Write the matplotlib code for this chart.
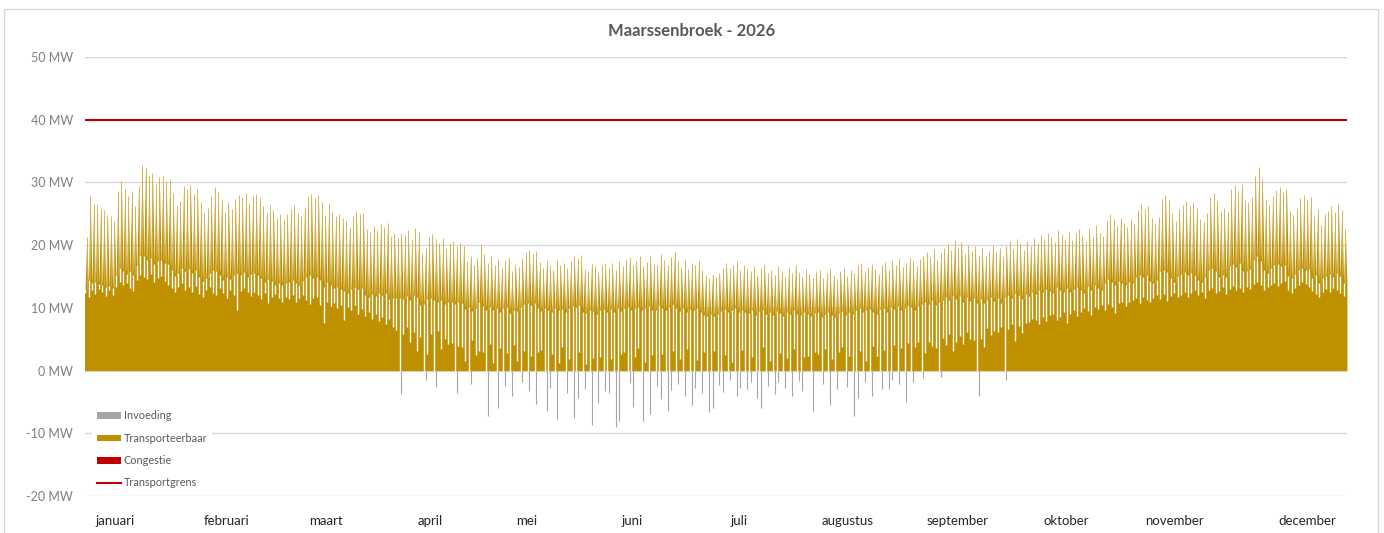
import numpy as np
import matplotlib.pyplot as plt
from matplotlib.patches import Patch, Rectangle
from matplotlib.lines import Line2D

plt.rcParams['font.family'] = ['Lato', 'DejaVu Sans']

# Daily peak load (MW), one row per month
peak = [
    21.3, 27.8, 26.5, 26.6, 25.8, 25.6, 24.8, 24.6, 23.9, 28.6, 30.3, 29.0, 27.8, 28.6, 26.2, 29.5, 32.8, 32.4, 31.2, 31.5, 29.8, 30.9, 31.1, 30.2, 30.6, 28.3, 26.4, 27.1, 29.4, 28.9, 29.6,
    28.1, 29.0, 26.8, 25.2, 26.0, 27.9, 29.3, 28.6, 27.4, 25.3, 26.9, 25.8, 27.3, 28.0, 27.6, 28.3, 26.7, 27.8, 28.2, 27.5, 26.2, 25.1, 26.4, 25.6, 24.4, 24.9, 24.1, 25.0,
    25.8, 26.4, 25.2, 24.6, 26.1, 27.8, 28.2, 27.5, 28.0, 26.9, 24.8, 26.7, 25.3, 24.6, 25.0, 24.3, 23.8, 22.9, 24.7, 25.4, 24.9, 25.2, 22.6, 22.1, 23.0, 22.4, 23.4, 22.9, 23.6, 21.4, 21.9,
    21.2, 22.0, 21.6, 22.4, 21.0, 22.8, 22.1, 18.8, 19.5, 21.3, 21.8, 21.0, 20.4, 21.1, 19.6, 20.3, 20.6, 19.8, 20.4, 19.9, 17.5, 18.2, 16.8, 17.9, 20.2, 18.6, 17.2, 18.3, 16.9, 17.8,
    16.4, 17.6, 18.1, 15.9, 17.0, 16.5, 17.9, 18.9, 19.2, 18.6, 19.0, 17.3, 16.4, 17.5, 16.8, 16.1, 17.6, 16.9, 17.2, 16.3, 17.4, 18.3, 18.0, 18.5, 16.2, 15.8, 17.0, 16.6, 15.7, 16.9, 17.1,
    16.3, 17.2, 16.0, 17.4, 16.6, 17.8, 18.1, 16.9, 17.5, 18.2, 16.7, 17.3, 18.4, 17.0, 16.8, 18.6, 17.7, 16.9, 18.1, 19.0, 17.4, 16.5, 17.6, 16.2, 17.1, 16.8, 17.5, 16.1, 15.2, 14.8,
    15.4, 14.9, 15.6, 16.4, 17.1, 16.3, 16.9, 17.4, 16.0, 16.8, 16.2, 15.9, 16.7, 15.3, 16.4, 17.0, 15.6, 16.1, 15.2, 16.6, 15.8, 14.9, 16.3, 15.5, 16.9, 15.7, 15.0, 16.2, 15.4, 14.8, 15.9,
    16.1, 14.7, 15.5, 16.3, 15.2, 14.6, 15.8, 16.4, 15.1, 16.0, 15.6, 16.8, 17.2, 15.9, 16.5, 17.0, 16.2, 15.4, 16.9, 17.3, 16.1, 17.6, 16.8, 17.9, 16.5, 17.2, 18.0, 17.4, 16.6, 17.8, 18.3,
    18.9, 18.1, 19.4, 17.6, 18.8, 19.6, 20.2, 19.3, 20.8, 19.7, 20.5, 18.6, 20.1, 19.0, 19.8, 18.4, 19.5, 18.2, 19.1, 20.0, 18.9, 19.6, 18.3, 19.9, 20.6, 19.4, 21.0, 20.3, 19.2, 20.7,
    19.8, 21.2, 20.4, 21.6, 20.9, 22.0, 21.3, 20.5, 22.4, 21.7, 21.0, 22.2, 20.8, 21.9, 22.6, 21.4, 20.6, 22.8, 21.5, 23.2, 22.0, 21.4, 23.8, 25.0, 24.2, 23.1, 24.4, 23.6, 22.9, 24.1, 23.4,
    25.6, 26.5, 25.8, 26.2, 24.3, 23.6, 24.5, 27.4, 28.0, 27.2, 25.1, 23.8, 25.7, 26.4, 27.0, 26.2, 26.8, 25.9, 24.1, 23.7, 25.2, 27.6, 28.3, 27.1, 25.4, 26.0, 25.3, 28.9, 29.6, 28.7,
    29.8, 27.2, 26.9, 27.6, 31.1, 32.4, 30.6, 27.3, 26.4, 27.9, 28.8, 29.2, 28.5, 29.0, 25.4, 24.8, 26.0, 27.5, 28.0, 27.2, 27.7, 24.6, 25.8, 23.2, 24.9, 25.5, 26.2, 25.3, 26.5, 25.6, 22.5,
]

# Typical load level of each day (top of the solid band, MW)
body = [
    13.0, 14.5, 14.0, 14.2, 13.8, 13.6, 13.4, 13.5, 13.2, 15.2, 16.3, 15.8, 15.4, 15.9, 15.2, 16.8, 18.4, 18.2, 17.6, 17.9, 17.0, 17.5, 17.7, 17.1, 17.0, 16.0, 15.1, 15.6, 16.4, 15.9, 16.2,
    15.6, 16.0, 15.0, 14.3, 14.8, 15.5, 16.1, 15.8, 15.3, 14.4, 15.0, 14.6, 15.2, 15.5, 15.3, 15.7, 14.9, 15.4, 15.6, 15.2, 14.7, 14.1, 14.6, 14.3, 13.7, 14.0, 13.6, 14.0,
    14.2, 14.5, 13.9, 13.6, 14.3, 15.0, 15.2, 14.8, 15.0, 14.4, 13.4, 14.2, 13.6, 13.2, 13.4, 13.0, 12.7, 12.3, 13.0, 13.3, 13.0, 13.1, 12.0, 11.8, 12.2, 11.9, 12.3, 12.1, 12.4, 11.4, 11.6,
    11.5, 11.6, 11.4, 11.9, 11.2, 12.0, 11.7, 10.4, 10.6, 11.4, 11.6, 11.2, 10.9, 11.3, 10.6, 10.9, 11.0, 10.6, 10.9, 10.7, 9.8, 10.1, 9.5, 10.0, 10.9, 10.3, 9.7, 10.2, 9.6, 10.0,
    9.4, 9.9, 10.2, 9.2, 9.7, 9.5, 10.1, 10.6, 10.8, 10.5, 10.7, 9.9, 9.5, 10.0, 9.7, 9.4, 10.0, 9.7, 9.8, 9.4, 9.9, 10.3, 10.2, 10.4, 9.4, 9.2, 9.7, 9.5, 9.1, 9.7, 9.8,
    9.4, 9.8, 9.3, 9.9, 9.5, 10.0, 10.2, 9.7, 9.9, 10.2, 9.6, 9.9, 10.3, 9.7, 9.6, 10.4, 10.0, 9.7, 10.2, 10.6, 9.9, 9.5, 10.0, 9.3, 9.8, 9.6, 9.9, 9.3, 8.9, 8.7,
    9.0, 8.7, 9.1, 9.5, 9.8, 9.4, 9.7, 9.9, 9.3, 9.6, 9.4, 9.2, 9.6, 8.9, 9.5, 9.7, 9.1, 9.3, 8.9, 9.5, 9.2, 8.7, 9.4, 9.0, 9.7, 9.1, 8.8, 9.4, 9.0, 8.7, 9.2,
    9.3, 8.6, 9.0, 9.4, 8.9, 8.6, 9.2, 9.5, 8.9, 9.3, 9.1, 9.7, 9.9, 9.3, 9.6, 9.8, 9.4, 9.0, 9.8, 10.0, 9.4, 10.2, 9.8, 10.3, 9.6, 10.0, 10.4, 10.1, 9.7, 10.3, 10.6,
    10.9, 10.6, 11.2, 10.4, 10.9, 11.3, 11.7, 11.2, 12.0, 11.4, 11.9, 10.9, 11.7, 11.1, 11.5, 10.8, 11.4, 10.8, 11.2, 11.7, 11.1, 11.5, 10.8, 11.7, 12.1, 11.5, 12.3, 12.0, 11.4, 12.2,
    11.9, 12.6, 12.2, 12.8, 12.5, 13.0, 12.7, 12.3, 13.3, 12.9, 12.6, 13.2, 12.5, 13.0, 13.4, 12.8, 12.4, 13.5, 12.9, 13.7, 13.1, 12.9, 14.0, 14.6, 14.2, 13.7, 14.3, 14.0, 13.6, 14.2, 13.9,
    14.9, 15.3, 15.0, 15.2, 14.3, 14.0, 14.5, 15.8, 16.1, 15.7, 14.8, 14.2, 15.1, 15.4, 15.7, 15.3, 15.6, 15.2, 14.4, 14.2, 14.9, 16.0, 16.3, 15.8, 15.0, 15.3, 15.0, 16.6, 17.0, 16.5,
    17.1, 15.9, 15.8, 16.2, 17.6, 18.3, 17.4, 16.0, 15.6, 16.4, 16.8, 17.0, 16.6, 16.9, 15.1, 14.8, 15.4, 16.1, 16.4, 16.0, 16.2, 14.7, 15.2, 14.0, 14.8, 15.1, 15.4, 15.0, 15.6, 15.1, 13.9,
]

# Daily lowest transportable load (MW)
low = [
    12.4, 11.8, 12.9, 12.2, 13.0, 12.6, 11.9, 12.8, 12.1, 13.4, 14.2, 13.6, 14.0, 13.1, 12.7, 14.5, 15.3, 15.0, 14.6, 15.4, 14.1, 14.8, 15.1, 14.3, 13.7, 13.2, 12.5, 13.4, 13.9, 12.8, 13.3,
    12.6, 13.5, 12.2, 11.8, 12.9, 13.3, 12.4, 12.0, 13.1, 12.3, 11.6, 12.8, 12.1, 9.6, 12.7, 13.2, 12.5, 11.9, 12.6, 12.0, 11.4, 12.3, 10.8, 11.7, 12.2, 11.5, 11.0, 11.8,
    11.4, 12.1, 10.9, 11.6, 12.0, 11.2, 10.6, 11.5, 11.8, 10.4, 7.6, 11.0, 10.3, 10.8, 9.9, 10.5, 8.1, 10.2, 9.6, 10.4, 9.1, 9.8, 8.7, 9.4, 8.2, 9.0, 7.9, 8.6, 7.4, 8.3, 7.0,
    6.4, 0.0, 5.8, 6.9, 4.6, 6.1, 3.2, 5.4, 0.0, 2.7, 5.9, 0.0, 6.3, 3.5, 5.0, 4.2, 4.4, 0.0, 3.9, 3.7, 1.6, 0.0, 4.8, 2.5, 3.1, 3.0, 0.0, 4.2, 1.2, 0.0,
    3.6, 0.0, 2.8, 0.0, 4.0, 1.5, 0.0, 3.1, 0.0, 2.4, 0.0, 3.0, 3.3, 0.0, 0.0, 2.6, 0.0, 1.2, 3.8, 0.0, 1.9, 0.0, 0.0, 2.9, 0.0, 1.1, 0.0, 2.0, 0.0, 2.2, 0.0,
    0.0, 1.8, 0.0, 0.0, 2.6, 3.0, 0.0, 0.0, 2.2, 3.6, 0.0, 1.3, 0.0, 2.5, 0.0, 0.0, 2.7, 0.0, 0.0, 3.2, 0.0, 1.9, 0.0, 3.4, 0.0, 0.0, 1.7, 0.0, 2.9, 0.0,
    0.0, 3.1, 0.0, 0.0, 2.5, 0.0, 1.4, 0.0, 0.0, 3.3, 0.0, 0.0, 2.2, 0.0, 0.0, 3.8, 0.0, 1.6, 0.0, 0.0, 2.8, 0.0, 2.0, 0.0, 3.5, 0.0, 0.0, 2.1, 2.4, 0.0, 3.0,
    2.6, 0.0, 3.4, 0.0, 1.8, 0.0, 2.9, 3.7, 0.0, 2.3, 0.0, 0.0, 3.1, 0.0, 1.5, 0.0, 3.9, 2.4, 0.0, 3.3, 0.0, 0.0, 4.1, 0.0, 3.6, 0.0, 4.4, 0.0, 3.8, 4.6, 0.0,
    2.8, 4.5, 3.9, 3.6, 0.0, 5.2, 4.0, 5.8, 3.1, 4.6, 5.5, 4.3, 6.1, 5.1, 4.9, 0.0, 5.0, 3.8, 6.8, 5.6, 6.3, 6.2, 7.0, 0.0, 6.6, 7.4, 4.7, 7.1, 6.0, 7.6,
    7.8, 8.3, 8.1, 7.5, 8.6, 7.9, 8.8, 9.1, 8.0, 8.5, 9.4, 7.6, 9.0, 9.6, 8.7, 9.3, 10.0, 9.5, 8.9, 10.2, 9.8, 10.4, 9.7, 10.6, 10.1, 9.2, 10.8, 11.0, 10.3, 10.9, 11.2,
    11.5, 10.7, 11.8, 11.3, 10.9, 11.6, 12.0, 11.4, 12.2, 11.1, 11.9, 12.4, 11.7, 12.1, 12.6, 11.8, 12.3, 12.8, 12.0, 12.5, 11.6, 12.9, 13.1, 12.4, 12.7, 13.3, 12.2, 13.0, 13.5, 12.8,
    13.2, 12.6, 13.4, 13.0, 13.8, 14.2, 13.6, 12.9, 13.3, 13.7, 14.0, 13.5, 13.9, 14.3, 12.8, 12.4, 13.1, 13.6, 14.1, 13.8, 13.4, 12.7, 12.2, 11.8, 12.5, 13.0, 12.6, 13.2, 12.9, 12.3, 11.9,
]

# Feed-in (negative, MW), daily minimum from 1 April to 30 September
invoeding_start = 90
invoeding = [
    0, -3.7, 0, 0, 0, 0, 0, 0, -1.5, 0, 0, -2.6, 0, 0, 0, 0, 0, -3.5, 0, 0, 0, -2.2, 0, 0, 0, 0, -7.2, 0, 0, -6.0,
    0, -2.5, 0, -4.0, 0, 0, -1.8, 0, -3.2, 0, -5.4, 0, 0, -6.5, -2.7, 0, -7.8, 0, 0, -3.6, 0, -7.5, -4.4, 0, -2.9, 0, -8.7, 0, -5.1, 0, -3.3,
    -3.5, 0, -9.0, -8.0, 0, 0, -2.0, -5.8, 0, 0, -8.0, 0, -6.9, 0, -2.4, -4.6, 0, -6.5, -3.1, 0, -2.2, 0, -4.0, 0, -5.5, -2.8, 0, -3.6, 0, -6.6,
    -6.0, 0, -2.3, -3.4, 0, -1.5, 0, -4.1, -2.7, 0, -3.0, -1.8, 0, -4.4, -6.0, 0, -2.5, 0, -3.7, -1.9, 0, -2.8, 0, -4.0, 0, -1.6, -3.2, 0, 0, -6.5, 0,
    0, -2.1, 0, -5.5, 0, -3.0, 0, 0, -2.6, 0, -7.2, -4.3, 0, -1.8, 0, -4.0, 0, 0, -2.9, 0, -3.0, -1.5, 0, -2.2, 0, -5.0, 0, -1.9, 0, 0, -1.2,
    0, 0, 0, 0, -1.0, 0, 0, 0, 0, 0, 0, 0, 0, 0, 0, -4.0, 0, 0, 0, 0, 0, 0, 0, -1.5, 0, 0, 0, 0, 0, 0,
]

transportgrens = 40

months = ['januari', 'februari', 'maart', 'april', 'mei', 'juni', 'juli',
          'augustus', 'september', 'oktober', 'november', 'december']
month_pos = [8.7, 40.8, 69.7, 99.8, 127.8, 158.2, 189.1, 220.6, 252.4, 283.9, 315.2, 353.4]
yticks = [-20, -10, 0, 10, 20, 30, 40, 50]

gold = '#BF9000'
red = '#C00000'
grey = '#A6A6A6'

peak = np.array(peak)
low = np.array(low)
body = np.clip(np.array(body), low, peak)
days = np.arange(len(peak))
inv = np.array(invoeding, dtype=float)
inv_days = np.arange(len(inv)) + invoeding_start

fig = plt.figure(figsize=(13.84, 5.33), dpi=100)
ax = fig.add_axes([85 / 1384, 37 / 533, 1262 / 1384, 439 / 533])

# daily load shape: solid band with a peak in the middle of each day
px = np.column_stack([days + 0.02, days + 0.5, days + 0.98]).ravel()
py = np.column_stack([body, peak, body]).ravel()
ax.fill_between(px, 0, py, color=gold, linewidth=0, zorder=2)
ax.bar(days + 0.5, body, width=1.0, color=gold, linewidth=0, zorder=2)
# thin tips of the peaks
ax.vlines(days + 0.5, body, peak, color='#D2AE48', linewidth=0.6, zorder=3)
# night-time dips
ax.vlines(days + 0.02, low, body, color='white', linewidth=1.0, zorder=4)
# feed-in
m = inv < 0
ax.vlines(inv_days[m] + 0.5, inv[m], 0, color=grey, linewidth=0.8, zorder=2)

ax.axhline(transportgrens, color=red, linewidth=1.5, zorder=5)

ax.set_xlim(0, len(peak))
ax.set_ylim(-20, 50)
ax.set_yticks(yticks)
ax.set_yticklabels([f'{v} MW' for v in yticks])
ax.set_xticks(month_pos)
ax.set_xticklabels(months)
ax.tick_params(axis='y', length=0, pad=8.5, labelsize=9, labelcolor='#7F7F7F')
ax.tick_params(axis='x', length=0, pad=13.5, labelsize=9.5, labelcolor='#262626')
ax.grid(axis='y', color='#D9D9D9', linewidth=1, zorder=0)
ax.set_axisbelow(True)
for s in ax.spines.values():
    s.set_visible(False)

handles = [
    Patch(facecolor=grey, edgecolor='none', label='Invoeding'),
    Patch(facecolor=gold, edgecolor='none', label='Transporteerbaar'),
    Patch(facecolor=red, edgecolor='none', label='Congestie'),
    Line2D([], [], color=red, linewidth=1.5, label='Transportgrens'),
]
leg = ax.legend(handles=handles, loc='lower left', bbox_to_anchor=(0.0016, -0.005),
                frameon=True, facecolor='white', edgecolor='none', framealpha=1,
                fontsize=7.8, labelcolor='#595959', labelspacing=1.05,
                handlelength=2.2, handleheight=0.55, handletextpad=0.3, borderpad=0.4)
leg.set_zorder(10)

fig.text(0.5, 1 - 31 / 533, 'Maarssenbroek - 2026', ha='center', va='center',
         fontsize=12, fontweight='bold', color='#595959')

fig.add_artist(Rectangle((4 / 1384, -0.05), 1374 / 1384, (533 - 9) / 533 + 0.05,
                         transform=fig.transFigure, fill=False, edgecolor='#D9D9D9', linewidth=1))

fig.savefig('out.png', dpi=100, facecolor='white')
